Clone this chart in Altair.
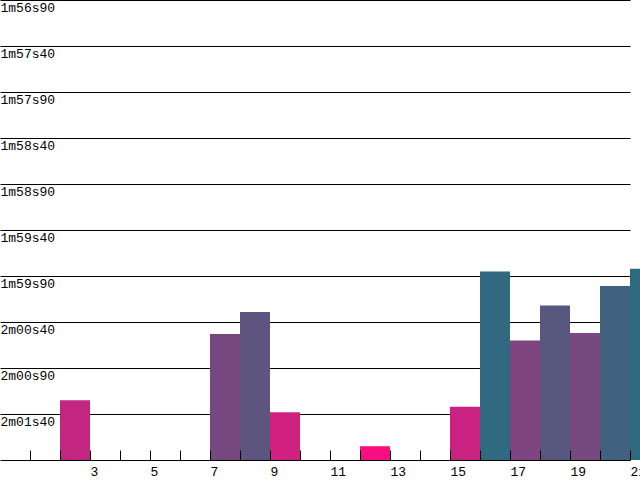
import altair as alt
import pandas as pd

# Lap numbers (bar spans lap -> lap + 1) and lap times in seconds
laps = [2, 7, 8, 9, 12, 15, 16, 17, 18, 19, 20, 21]
times = [121.25, 120.53, 120.29, 121.38, 121.75, 121.32,
         119.85, 120.60, 120.22, 120.52, 120.01, 119.82]

# Axis settings (times in seconds)
y_top = 116.9
y_bottom = 121.9
y_tick_values = [116.9, 117.4, 117.9, 118.4, 118.9, 119.4, 119.9, 120.4, 120.9, 121.4]
x_tick_values = list(range(1, 22))
x_label_values = [3, 5, 7, 9, 11, 13, 15, 17, 19, 21]
x_domain = [0, 21]

color_range = ["#2D6A80", "#F70E80"]

df = pd.DataFrame({"lap": laps, "time": times})
df["lap_end"] = df["lap"] + 1

FONT = "Liberation Mono"

time_label = ("floor(datum.value / 60) + 'm' + "
              "replace(format(datum.value % 60, '05.2f'), '.', 's')")

x_scale = alt.Scale(domain=x_domain, nice=False, zero=False)

bars = alt.Chart(df).mark_bar(clip=False).encode(
    x=alt.X(
        "lap:Q",
        scale=x_scale,
        axis=alt.Axis(
            orient="bottom",
            values=x_label_values,
            ticks=False,
            grid=False,
            domain=True,
            domainColor="black",
            domainWidth=1,
            labelAlign="left",
            labelBaseline="top",
            labelPadding=5,
            labelOffset=0,
            labelFlush=False,
            labelOverlap=False,
            labelBound=False,
            labelFont=FONT,
            labelFontSize=13,
            labelColor="black",
            title=None,
            zindex=1,
        ),
    ),
    x2="lap_end:Q",
    y=alt.Y(
        "time:Q",
        scale=alt.Scale(domain=[y_top, y_bottom], reverse=True, nice=False, zero=False),
        axis=alt.Axis(
            orient="left",
            values=y_tick_values,
            labelExpr=time_label,
            ticks=False,
            domain=False,
            grid=True,
            gridColor="black",
            gridOpacity=1,
            gridWidth=1,
            labelAlign="left",
            labelBaseline="top",
            labelPadding=0,
            labelOffset=1,
            labelFlush=False,
            labelOverlap=False,
            labelBound=False,
            labelFont=FONT,
            labelFontSize=13,
            labelColor="black",
            title=None,
        ),
    ),
    y2=alt.Y2Datum(y_bottom),
    color=alt.Color(
        "time:Q",
        scale=alt.Scale(range=color_range, interpolate="rgb", zero=False),
        legend=None,
    ),
)

tick_layer = alt.Chart(df).mark_point(opacity=0).encode(
    x=alt.X(
        "lap:Q",
        scale=x_scale,
        axis=alt.Axis(
            orient="top",
            offset=-460,
            values=x_tick_values,
            ticks=True,
            tickSize=10,
            tickColor="black",
            tickWidth=1,
            labels=False,
            domain=False,
            grid=False,
            title=None,
            zindex=1,
        ),
    ),
)

chart = alt.layer(bars, tick_layer).resolve_axis(x="independent").properties(
    width=630,
    height=460,
    autosize=alt.AutoSizeParams(type="none"),
    padding={"left": 0, "top": 0, "right": 10, "bottom": 20},
    background="white",
).configure_view(strokeWidth=0)

chart.save("out.html", embed_options={"renderer": "svg", "actions": False})
